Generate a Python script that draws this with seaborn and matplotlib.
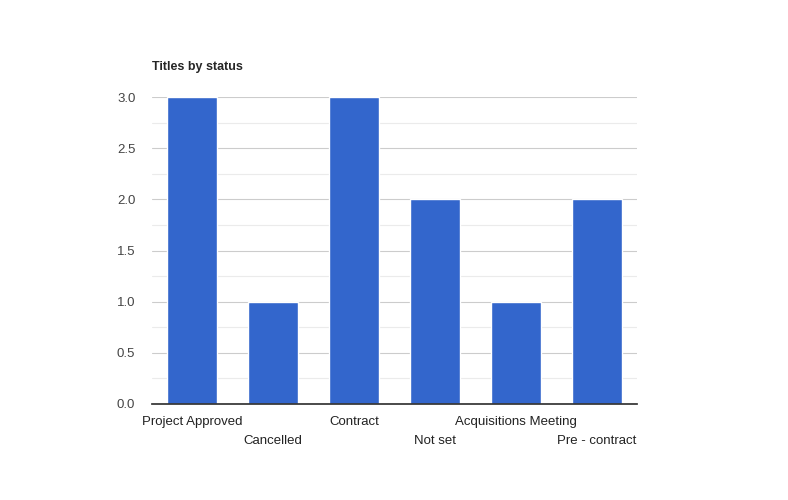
import matplotlib
matplotlib.use("Agg")
import matplotlib.pyplot as plt
import seaborn as sns
import pandas as pd

categories = ["Project Approved", "Cancelled", "Contract", "Not set", "Acquisitions Meeting", "Pre - contract"]
values = [3, 1, 3, 2, 1, 2]
yticks = [0.0, 0.5, 1.0, 1.5, 2.0, 2.5, 3.0]

sns.set_theme(style="white")
plt.rcParams['font.family'] = ['Liberation Sans', 'DejaVu Sans']

fig = plt.figure(figsize=(7.88, 5.0), dpi=100)
ax = fig.add_axes([152/788, 1-404/500, (637-152)/788, (404-97)/500])
df = pd.DataFrame({"cat": categories, "val": values})
sns.barplot(data=df, x="cat", y="val", color="#3366cc", saturation=1, width=0.62, ax=ax)

ax.set_ylim(0, 3)
ax.set_xlim(-0.5, 5.5)
ax.set_yticks(yticks)
ax.set_yticklabels([f"{v:.1f}" for v in yticks], fontsize=9.5, color="#444444")
ax.set_yticks([0.25, 0.75, 1.25, 1.75, 2.25, 2.75], minor=True)
ax.grid(axis="y", which="major", color="#cccccc", lw=0.8)
ax.grid(axis="y", which="minor", color="#ebebeb", lw=0.8)
ax.set_axisbelow(True)
ax.tick_params(axis="y", length=0, pad=12)
ax.tick_params(axis="x", length=0)
ax.set_xticks(range(len(categories)))
ax.set_xticklabels([])
for i, c in enumerate(categories):
    ax.text(i, -0.04 if i % 2 == 0 else -0.1, c, ha="center", va="top", fontsize=9.5,
            color="#222222", transform=ax.get_xaxis_transform())
for s in ["top", "right", "left"]:
    ax.spines[s].set_visible(False)
ax.spines["bottom"].set_color("#333333")
ax.set_xlabel("")
ax.set_ylabel("")
fig.text(152/788, 1-67/500, "Titles by status", fontsize=9, fontweight="bold", va="center", ha="left")
fig.savefig("out.png", dpi=100)
